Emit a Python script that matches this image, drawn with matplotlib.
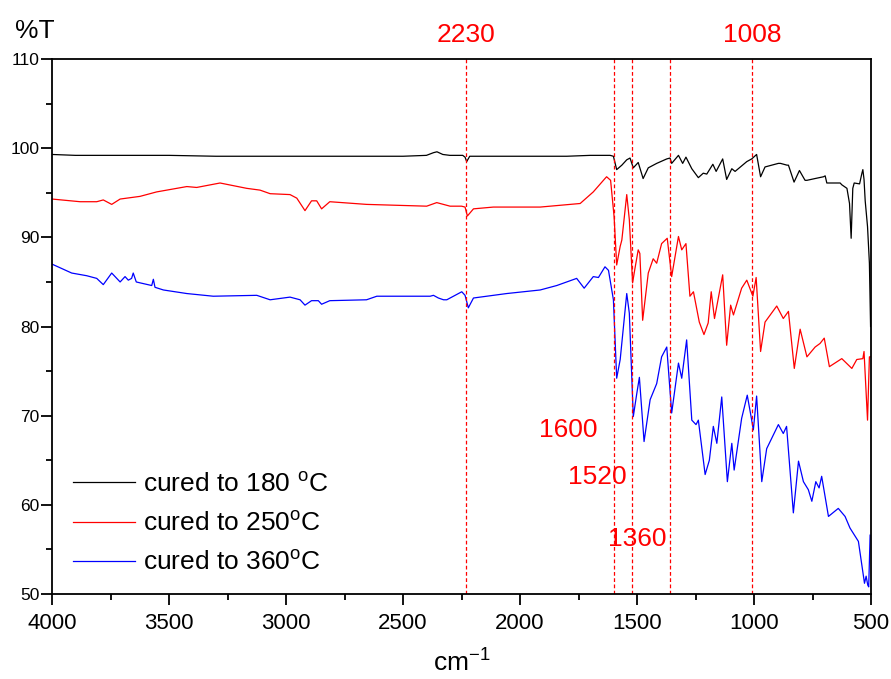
import matplotlib
matplotlib.use("Agg")
import matplotlib.pyplot as plt
from matplotlib.ticker import MultipleLocator

plt.rcParams.update({
    "font.family": ["Liberation Sans", "DejaVu Sans"],
    "mathtext.fontset": "custom",
    "mathtext.rm": "Liberation Sans",
    "mathtext.it": "Liberation Sans:italic",
})

# spectra (wavenumber cm-1, %T)
wn_180 = [4000, 3900, 3700, 3500, 3300, 3100, 2900, 2700, 2500, 2400, 2370, 2355, 2330,
          2300, 2245, 2235, 2228, 2215, 2150, 2000, 1800, 1700, 1615, 1601, 1587, 1565,
          1544, 1530, 1516, 1495, 1474, 1452, 1416, 1373, 1359, 1352, 1323, 1305, 1291,
          1266, 1238, 1217, 1202, 1176, 1162, 1134, 1117, 1095, 1081, 1031, 1010, 989,
          972, 953, 896, 887, 859, 853, 829, 806, 782, 774, 739, 703, 696, 689, 682,
          632, 625, 603, 592, 585, 578, 572, 549, 539, 535, 530, 525, 515, 507, 502]
t_180 = [99.3, 99.2, 99.2, 99.2, 99.1, 99.1, 99.1, 99.1, 99.1, 99.2, 99.5, 99.6, 99.3,
         99.2, 99.2, 99.0, 98.5, 99.1, 99.1, 99.1, 99.1, 99.2, 99.2, 99.1, 97.6, 98.1,
         98.7, 98.9, 97.8, 98.4, 96.6, 97.8, 98.3, 98.8, 98.9, 98.3, 99.2, 98.3, 99.0,
         97.7, 96.7, 97.2, 97.1, 98.2, 97.4, 98.8, 96.5, 97.7, 97.4, 98.5, 98.8, 99.3,
         96.8, 97.9, 98.3, 98.3, 98.1, 98.1, 96.2, 97.5, 96.4, 96.4, 96.6, 96.8, 96.9,
         96.1, 96.1, 96.1, 95.9, 95.5, 93.8, 89.9, 95.5, 96.1, 96.0, 97.2, 97.6, 96.5,
         94.1, 91.2, 87.1, 80.0]

wn_250 = [4000, 3880, 3809, 3781, 3745, 3709, 3624, 3553, 3424, 3382, 3282, 3168, 3111,
          3068, 2983, 2954, 2919, 2891, 2869, 2848, 2813, 2656, 2399, 2356, 2299, 2250,
          2235, 2225, 2199, 2114, 1914, 1743, 1687, 1637, 1630, 1613, 1598, 1587, 1572,
          1565, 1544, 1533, 1519, 1509, 1495, 1488, 1476, 1452, 1431, 1416, 1395, 1371,
          1352, 1323, 1309, 1291, 1274, 1259, 1234, 1214, 1196, 1183, 1169, 1134, 1117,
          1100, 1088, 1053, 1031, 1005, 991, 972, 953, 903, 875, 853, 828, 803, 774,
          739, 718, 700, 678, 625, 582, 561, 535, 530, 515, 507, 502]
t_250 = [94.3, 94.0, 94.0, 94.2, 93.7, 94.3, 94.6, 95.1, 95.7, 95.6, 96.1, 95.5, 95.3,
         94.9, 94.8, 94.4, 93.0, 94.1, 94.1, 93.2, 94.0, 93.7, 93.5, 93.9, 93.5, 93.5,
         93.4, 92.4, 93.2, 93.4, 93.4, 93.8, 95.1, 96.6, 96.8, 96.4, 92.3, 86.9, 89.0,
         89.7, 94.8, 92.0, 84.9, 86.5, 88.6, 88.2, 80.7, 86.0, 87.6, 87.1, 89.3, 89.9,
         85.6, 90.1, 88.6, 89.3, 83.4, 83.9, 80.5, 79.1, 80.4, 83.9, 80.9, 85.8, 77.9,
         82.4, 81.3, 84.3, 85.2, 83.4, 85.5, 77.2, 80.5, 82.3, 80.9, 81.7, 75.3, 79.7,
         76.6, 77.7, 78.1, 78.7, 75.5, 76.4, 75.3, 76.3, 76.4, 77.2, 69.5, 76.6, 76.6]

wn_360 = [4000, 3916, 3852, 3809, 3781, 3745, 3709, 3688, 3674, 3660, 3653, 3640, 3624,
          3574, 3567, 3560, 3524, 3424, 3311, 3125, 3068, 2983, 2940, 2919, 2891, 2862,
          2848, 2813, 2656, 2612, 2384, 2370, 2349, 2327, 2313, 2249, 2235, 2221, 2199,
          2057, 1914, 1843, 1758, 1726, 1687, 1665, 1637, 1622, 1601, 1587, 1572, 1544,
          1533, 1516, 1501, 1490, 1470, 1444, 1416, 1395, 1373, 1352, 1323, 1309, 1288,
          1266, 1248, 1238, 1209, 1191, 1174, 1159, 1138, 1114, 1095, 1085, 1053, 1029,
          1010, 1003, 989, 967, 946, 896, 875, 861, 832, 810, 789, 768, 753, 736, 722,
          711, 682, 640, 611, 590, 554, 528, 521, 514, 510, 504]
t_360 = [87.0, 86.0, 85.7, 85.4, 84.7, 86.0, 85.0, 85.6, 85.2, 85.4, 86.0, 85.0, 84.9,
         84.6, 85.3, 84.4, 84.1, 83.7, 83.4, 83.5, 83.0, 83.3, 83.0, 82.4, 82.9, 82.9,
         82.5, 82.9, 83.0, 83.4, 83.4, 83.5, 83.2, 83.0, 83.0, 83.9, 83.5, 82.1, 83.2,
         83.7, 84.1, 84.6, 85.4, 84.3, 85.6, 85.5, 86.7, 86.3, 83.0, 74.2, 76.3, 83.7,
         81.5, 69.9, 72.5, 74.3, 67.1, 71.8, 73.6, 76.6, 77.7, 70.3, 75.9, 74.2, 78.5,
         69.5, 69.0, 69.5, 63.4, 65.0, 68.8, 66.9, 72.1, 62.6, 66.9, 63.9, 69.7, 72.3,
         69.5, 68.4, 72.2, 62.6, 66.3, 69.0, 68.0, 68.8, 59.1, 64.9, 62.6, 61.7, 60.4,
         62.6, 61.9, 63.2, 58.7, 59.6, 58.7, 57.4, 55.9, 51.2, 52.0, 51.0, 50.8, 56.6]

series = [
    (wn_180, t_180, "black", "cured to 180 $^{\\mathrm{o}}$C"),
    (wn_250, t_250, "red", "cured to 250$^{\\mathrm{o}}$C"),
    (wn_360, t_360, "blue", "cured to 360$^{\\mathrm{o}}$C"),
]

mark_wn = [2230, 1600, 1520, 1360, 1008]
top_labels = ["2230", "1008"]
side_labels = ["1600", "1520", "1360"]

fig = plt.figure(figsize=(8.91, 6.79), dpi=100)
ax = fig.add_axes([0.0584, 0.1252, 0.9192, 0.7878])

for x, y, c, lab in series:
    ax.plot(x, y, color=c, lw=0.9, label=lab)

for m in mark_wn:
    ax.axvline(m, color="red", lw=0.9, linestyle=(0, (3, 2)))

# labels for the marked bands
ax.text(2230, 112.7, top_labels[0], color="red", fontsize=19, ha="center", va="center", clip_on=False)
ax.text(1008, 112.7, top_labels[1], color="red", fontsize=19, ha="center", va="center", clip_on=False)
ax.text(1667, 68.4, side_labels[0], color="red", fontsize=19, ha="right", va="center")
ax.text(1543, 63.1, side_labels[1], color="red", fontsize=19, ha="right", va="center")
ax.text(1372, 56.2, side_labels[2], color="red", fontsize=19, ha="right", va="center")

ax.set_xlim(4000, 500)
ax.set_ylim(50, 110)
ax.xaxis.set_major_locator(MultipleLocator(500))
ax.xaxis.set_minor_locator(MultipleLocator(250))
ax.yaxis.set_major_locator(MultipleLocator(10))
ax.yaxis.set_minor_locator(MultipleLocator(5))
ax.tick_params(axis="x", which="major", length=8, width=1.3, labelsize=16, pad=6)
ax.tick_params(axis="x", which="minor", length=4, width=1.3)
ax.tick_params(axis="y", which="major", length=8, width=1.3, labelsize=12.5, pad=1)
ax.tick_params(axis="y", which="minor", length=4, width=1.3)
for s in ax.spines.values():
    s.set_linewidth(1.3)

ax.set_xlabel("cm$^{-1}$", fontsize=19, labelpad=11)
ax.text(-0.045, 1.03, "%T", transform=ax.transAxes, fontsize=19, ha="left", va="bottom")

ax.legend(loc="lower left", bbox_to_anchor=(0.0256, 0.035), frameon=False, fontsize=19,
          handlelength=2.35, handletextpad=0.3, labelspacing=0.58, borderpad=0, borderaxespad=0)

fig.savefig("out.png", dpi=100)
